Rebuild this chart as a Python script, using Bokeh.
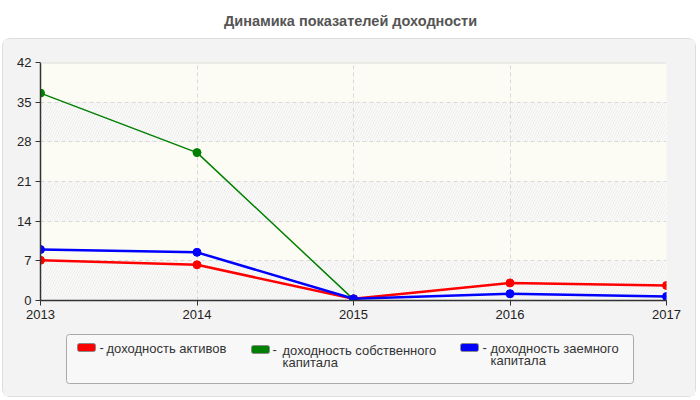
from bokeh.plotting import figure
from bokeh.layouts import column
from bokeh.models import Range1d, FixedTicker, BoxAnnotation, Span
from bokeh.core.properties import value
from bokeh.embed import file_html
from bokeh.resources import INLINE

# --- data -------------------------------------------------------------
years = [2013, 2014, 2015, 2016, 2017]
roa = [7.1, 6.3, 0.3, 3.1, 2.65]        # доходность активов
roe = [36.6, 26.1, 0.2, None, None]     # доходность собственного капитала
rod = [9.0, 8.5, 0.3, 1.2, 0.7]         # доходность заемного капитала
y_ticks = [0, 7, 14, 21, 28, 35, 42]

series_names = ["доходность активов",
                "доходность собственного\nкапитала",
                "доходность заемного\nкапитала"]
series_colors = ["#ff0000", "#008000", "#0000ff"]

title_text = "Динамика показателей доходности"

FONT = "Liberation Sans"
PANEL_BG = "#f3f3f3"


def blank(width, height, bg, xr, yr):
    """A figure without axes, used for decorations in pixel-like units."""
    f = figure(width=width, height=height, output_backend="svg",
               toolbar_location=None, x_axis_type=None, y_axis_type=None,
               x_range=xr, y_range=yr, min_border=0)
    f.outline_line_color = None
    f.background_fill_color = bg
    f.border_fill_color = bg
    return f


def box(**kw):
    kw.setdefault("fill_alpha", 1.0)
    kw.setdefault("line_alpha", 1.0)
    return BoxAnnotation(**kw)


# --- title strip ------------------------------------------------------
head = blank(700, 38, "white", Range1d(0, 700), Range1d(38, 0))
head.text(x=[350], y=[20], text=[title_text], text_font=value(FONT),
          text_font_style="bold", text_font_size="14.5px", text_color="#555555",
          text_align="center", text_baseline="middle")

# --- chart ------------------------------------------------------------
CW, CH = 692, 289
p = figure(width=CW, height=CH, output_backend="svg", toolbar_location=None,
           x_range=Range1d(years[0], years[-1]),
           y_range=Range1d(y_ticks[0], y_ticks[-1]),
           min_border_left=37, min_border_top=23,
           min_border_right=29, min_border_bottom=28)
p.border_fill_color = PANEL_BG
p.background_fill_color = "#fcfcf4"
p.outline_line_color = None

# alternating plot bands: hatched / pale yellow
for i in range(len(y_ticks) - 1):
    hatched = (i % 2 == 0)
    p.add_layout(box(bottom=y_ticks[i], top=y_ticks[i + 1],
                     left=years[0], right=years[-1],
                     fill_color="#fcfcfb" if hatched else "#fcfcf4",
                     line_color=None,
                     hatch_pattern="/" if hatched else None,
                     hatch_color="#ebebeb", hatch_scale=5,
                     hatch_weight=1, level="image"))

# top edge of the plot area
p.add_layout(Span(location=y_ticks[-1], dimension="width",
                  line_color="#dadada", line_width=2))

p.yaxis.ticker = FixedTicker(ticks=y_ticks)
p.xaxis.ticker = FixedTicker(ticks=years)
for ax in (p.xaxis[0], p.yaxis[0]):
    ax.axis_line_color = "#333333"
    ax.axis_line_width = 1.5
    ax.major_tick_line_color = "#333333"
    ax.major_tick_out = 5
    ax.major_tick_in = 0
    ax.minor_tick_line_color = None
    ax.major_label_text_font = FONT
    ax.major_label_text_font_size = "13px"
    ax.major_label_text_color = "#222222"
    ax.major_label_standoff = 4

for g in (p.xgrid, p.ygrid):
    g.grid_line_color = "#d9d9d9"
    g.grid_line_dash = "4 3"

for vals, color, lw in ((roa, series_colors[0], 2.5),
                        (roe, series_colors[1], 1.5),
                        (rod, series_colors[2], 2.5)):
    xs = [x for x, v in zip(years, vals) if v is not None]
    ys = [v for v in vals if v is not None]
    p.line(xs, ys, line_color=color, line_width=lw)
    p.scatter(xs, ys, size=8, fill_color=color, line_color=color)

# --- legend -----------------------------------------------------------
# the column lines this frame up with the chart frame (page x 40..666),
# so its ranges are given in page pixels
LW, LH = 692, 68
leg = blank(LW, LH, PANEL_BG, Range1d(40, 666), Range1d(328 + LH, 328))
leg.add_layout(box(left=66, right=633, top=334, bottom=383,
                   fill_color="#f8f8f8", line_color="#a9a9a9",
                   line_width=1, border_radius=3, level="underlay"))

# swatch left, swatch top, dash left, text left for each entry
slots = [(77, 343, 99, 106), (251, 345, 272, 282), (460, 343, 482, 490)]
tx, ty, tt = [], [], []
for (sx, st, dx, lx), name, color in zip(slots, series_names, series_colors):
    leg.add_layout(box(left=sx, right=sx + 18, top=st, bottom=st + 8,
                       fill_color=color, line_color="#8a8a8a",
                       line_width=1, border_radius=2))
    tx.append(dx)
    ty.append(st + 4)
    tt.append("-")
    for k, line in enumerate(name.split("\n")):
        tx.append(lx)
        ty.append(st + 5 + 12 * k)
        tt.append(line)
leg.text(x=tx, y=ty, text=tt, text_font=value(FONT), text_font_size="13px",
         text_color="#333333", text_baseline="middle")

panel = column(p, leg, margin=(0, 0, 0, 2),
               styles={"background-color": PANEL_BG,
                       "border": "1px solid #dedede",
                       "border-radius": "8px"})
root = column(head, panel)

open("out.html", "w").write(file_html(root, INLINE))
